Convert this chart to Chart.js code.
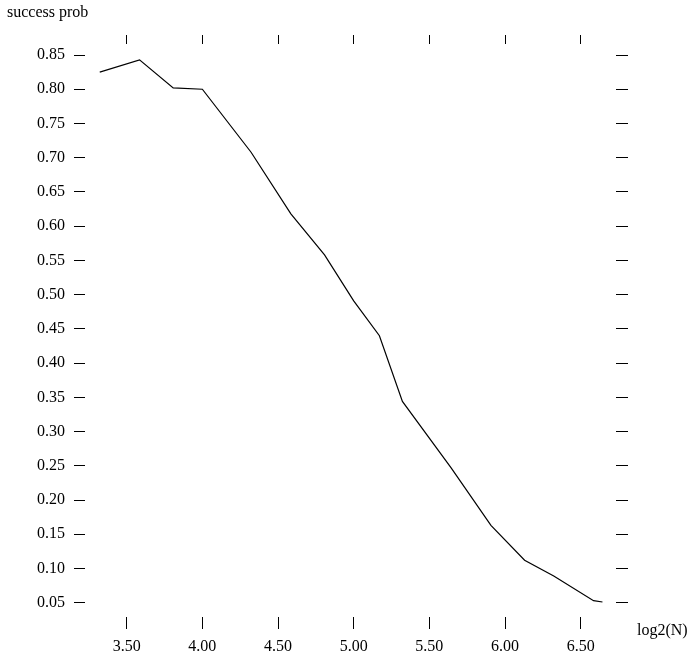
<!DOCTYPE html>
<html>
<head>
<meta charset="utf-8">
<script src="https://cdn.jsdelivr.net/npm/chart.js@4.4.1/dist/chart.umd.min.js"></script>
<style>
  html, body { margin: 0; padding: 0; background: #ffffff; }
  #wrap { position: relative; width: 691px; height: 658px; }
</style>
</head>
<body>
<div id="wrap"><canvas id="plot"></canvas></div>
<script>
// Problem sizes N; plotted on a log2 axis
const sizes = [10, 12, 14, 16, 20, 24, 28, 32, 36, 40, 50, 60, 70, 80, 96, 100];
// Measured success probability for each size
const successProb = [0.825, 0.843, 0.802, 0.800, 0.708, 0.618, 0.558, 0.491, 0.440, 0.344, 0.247, 0.163, 0.112, 0.089, 0.053, 0.051];
// Tick positions for both axes
const xTicks = [3.5, 4.0, 4.5, 5.0, 5.5, 6.0, 6.5];
const yTicks = [0.05, 0.10, 0.15, 0.20, 0.25, 0.30, 0.35, 0.40, 0.45, 0.50, 0.55, 0.60, 0.65, 0.70, 0.75, 0.80, 0.85];
const xCaption = 'log2(N)';
const yCaption = 'success prob';

const points = sizes.map((n, i) => ({ x: Math.log2(n), y: successProb[i] }));

const FONT = { family: '"Liberation Serif", "Times New Roman", serif', size: 16 };
const X_RANGE = { min: 3.2245, max: 6.7333 };
const Y_RANGE = { min: 0.0291, max: 0.8661 };

function fixedTicks(values) {
  return scale => { scale.ticks = values.map(v => ({ value: v })); };
}

// Draws the two axis captions next to their axes
const captions = {
  id: 'captions',
  afterDraw(chart) {
    const ctx = chart.ctx;
    const xs = chart.scales.x;
    const area = chart.chartArea;
    ctx.save();
    ctx.fillStyle = '#000';
    ctx.font = `${FONT.size}px ${FONT.family}`;
    ctx.textBaseline = 'middle';
    ctx.textAlign = 'left';
    ctx.fillText(yCaption, 7, 13);
    ctx.fillText(xCaption, area.right + 21, xs.top + 14);
    ctx.restore();
  }
};

const tickGrid = len => ({
  drawOnChartArea: false,
  drawTicks: true,
  tickLength: len,
  tickColor: '#000',
  tickWidth: 1
});

new Chart(document.getElementById('plot'), {
  type: 'line',
  data: {
    datasets: [{
      data: points,
      borderColor: '#000',
      borderWidth: 1.2,
      pointRadius: 0,
      tension: 0,
      fill: false
    }]
  },
  options: {
    responsive: true,
    maintainAspectRatio: false,
    animation: false,
    layout: { padding: 0 },
    plugins: { legend: { display: false }, tooltip: { enabled: false } },
    scales: {
      x: {
        type: 'linear', position: 'bottom', ...X_RANGE,
        afterBuildTicks: fixedTicks(xTicks),
        afterFit: s => { s.height = 41; },
        border: { display: false },
        grid: tickGrid(12),
        ticks: {
          color: '#000', font: FONT, padding: 8, maxRotation: 0,
          callback: v => v.toFixed(2)
        }
      },
      xTop: {
        type: 'linear', position: 'top', ...X_RANGE,
        afterBuildTicks: fixedTicks(xTicks),
        afterFit: s => { s.height = 44; },
        border: { display: false },
        grid: tickGrid(9),
        ticks: { display: false }
      },
      y: {
        type: 'linear', position: 'left', ...Y_RANGE,
        afterBuildTicks: fixedTicks(yTicks),
        afterFit: s => { s.width = 85; },
        border: { display: false },
        grid: tickGrid(11),
        ticks: {
          color: '#000', font: FONT, padding: 9,
          callback: v => v.toFixed(2)
        }
      },
      yRight: {
        type: 'linear', position: 'right', ...Y_RANGE,
        afterBuildTicks: fixedTicks(yTicks),
        afterFit: s => { s.width = 75; },
        border: { display: false },
        grid: tickGrid(12),
        ticks: { display: false }
      }
    }
  },
  plugins: [captions]
});
</script>
</body>
</html>
